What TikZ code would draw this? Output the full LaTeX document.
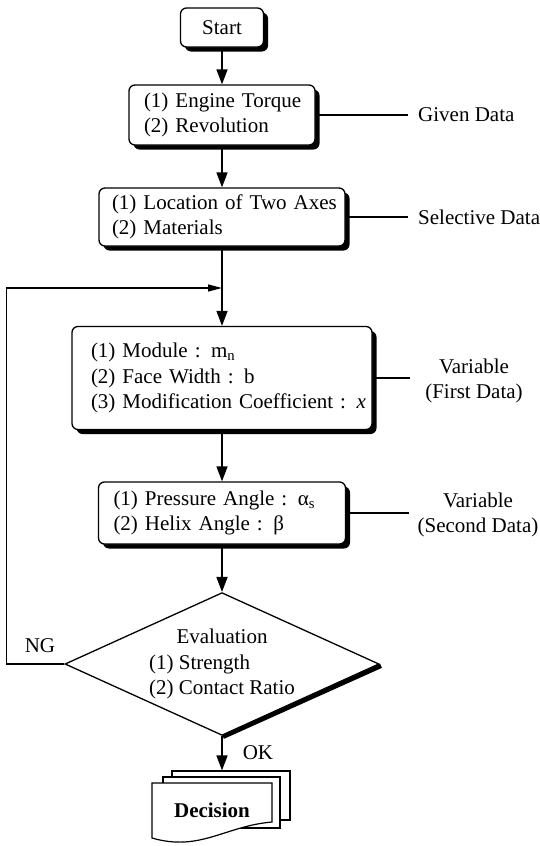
\documentclass[tikz,border=0pt]{standalone}
\usepackage{fontspec}
\setmainfont{Liberation Serif}
\usetikzlibrary{arrows.meta,shapes.geometric,shadows}
\begin{document}
\begin{tikzpicture}[x=1pt,y=-1pt,
  every node/.style={font=\fontsize{21}{25.5}\selectfont},
  box/.style={draw, line width=1.3pt, rounded corners=6pt, fill=white, align=left, inner ysep=0pt,
     drop shadow={shadow xshift=4.5pt, shadow yshift=-4.5pt, fill=black, opacity=1}},
  flow/.style={line width=1.6pt, -{Triangle[length=15pt,width=11pt]}},
  link/.style={line width=1.5pt},
  back/.style={line width=1.3pt, -{Triangle[length=14pt,width=7pt]}},
  page/.style={draw, line width=1.2pt, fill=white, inner sep=0pt},
  lbl/.style={inner sep=0pt}]
\useasboundingbox (0,0) rectangle (540,846);

% boxes
\node[box, align=center, minimum width=83pt, minimum height=39pt, inner xsep=0pt] (start) at (222,27.5) {Start};
\node[box, text width=156pt, inner xsep=15pt, minimum height=60pt] (b2) at (222,115)
  {\mbox{(1) Engine Torque}\\\mbox{(2) Revolution}};
\node[box, text width=220pt, inner xsep=13pt, minimum height=58pt] (b3) at (222,217)
  {\mbox{(1) Location of Two Axes}\\\mbox{(2) Materials}};
\node[box, text width=262pt, inner xsep=19pt, minimum height=103pt] (b4) at (222,378)
  {\mbox{(1) Module : m\textsubscript{n}}\\\mbox{(2) Face Width : b}\\\mbox{(3) Modification Coefficient : \textit{x}}};
\node[box, text width=217pt, inner xsep=15pt, minimum height=62pt] (b5) at (222,513)
  {\mbox{(1) Pressure Angle : α\textsubscript{s}}\\\mbox{(2) Helix Angle : β}};

% decision diamond
\draw[line width=4.5pt] ([shift={(1,1.8)}]380,664) -- ([shift={(1,1.8)}]222,735);
\node[draw, line width=1.3pt, fill=white, diamond, aspect=2.2, minimum width=313pt, minimum height=142pt, inner sep=0pt] (dia) at (222,664)
  {\begin{tabular}{@{}l@{}}\multicolumn{1}{@{}c@{}}{Evaluation}\\(1) Strength\\(2) Contact Ratio\end{tabular}};

% document stack
\node[page, minimum width=118pt, minimum height=49pt] (p3) at (231,795.5) {};
\node[page, minimum width=117pt, minimum height=51pt] (p2) at (221.5,802.5) {};
\draw[line width=1.2pt, fill=white] (152,783) -- (272,783) -- (272,822)
  .. controls (225,826) and (200,852) .. (152,838) -- cycle;
\node[lbl] (dec) at (212,810) {\textbf{Decision}};

% flow arrows
\coordinate (j) at (222,288);
\draw[flow] (start.south) -- (b2.north);
\draw[flow] (b2.south) -- (b3.north);
\draw[flow] (b3.south) -- (b4.north);
\draw[flow] (b4.south) -- (b5.north);
\draw[flow] (b5.south) -- (dia.north);
\draw[flow] (dia.south) -- (dia.south |- p3.north);
\draw[back] (dia.west) -- ++(-58,0) |- (j);

% side labels
\node[lbl, anchor=west] (lg) at (418,115) {Given Data};
\node[lbl, anchor=west] (ls) at (418,217) {Selective Data};
\node[lbl, align=center] (lv1) at (474,381) {Variable\\(First Data)};
\node[lbl, align=center] (lv2) at (478,515) {Variable\\(Second Data)};
\draw[link, shorten >=10pt] (b2.east) -- (lg.west);
\draw[link, shorten >=10pt] (b3.east) -- (ls.west);
\draw[link, shorten >=15pt] (b4.east) -- (lv1.west |- b4.east);
\draw[link, shorten >=8pt] (b5.east) -- (lv2.west |- b5.east);

\node[lbl] (ng) at (40,646) {NG};
\node[lbl] (ok) at (258,753) {OK};
\end{tikzpicture}
\end{document}
